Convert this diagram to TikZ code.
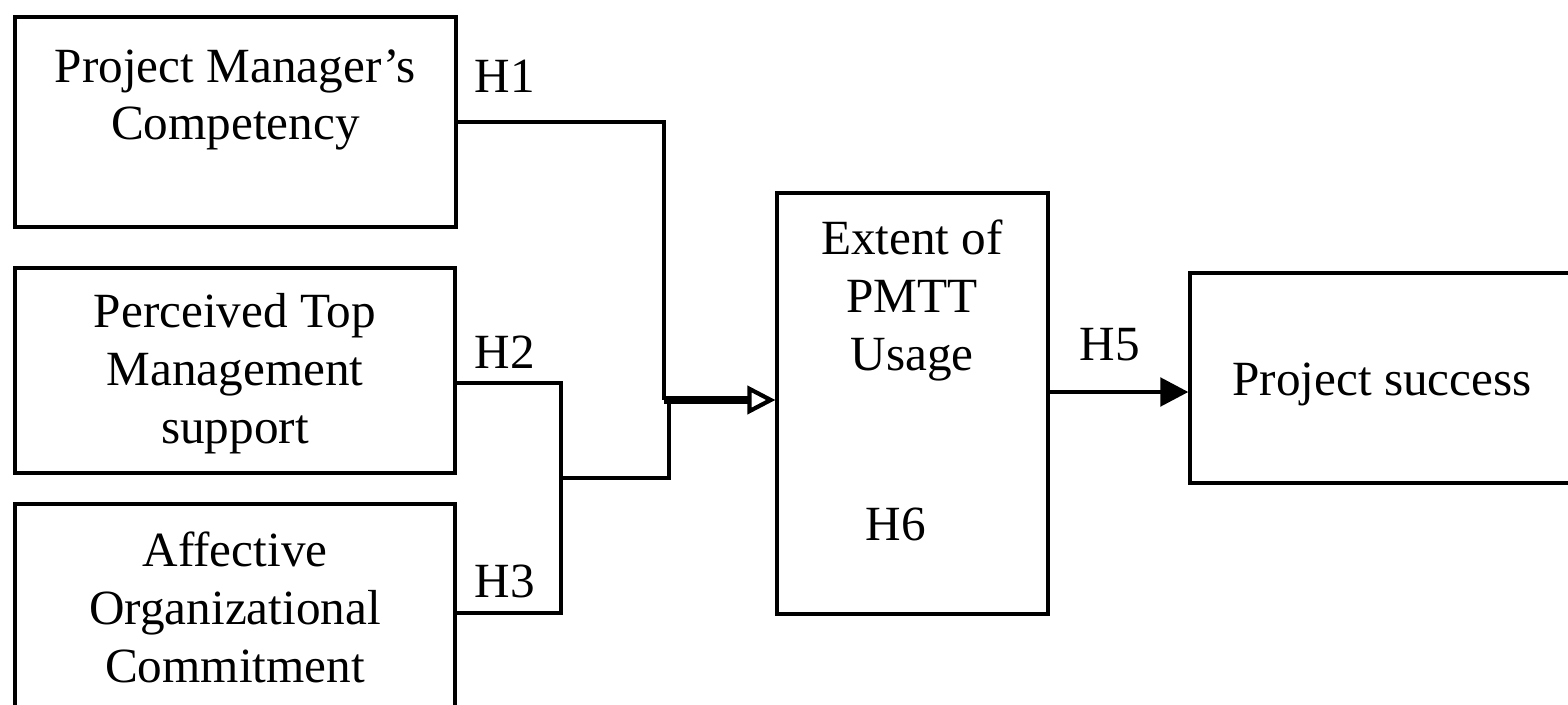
\documentclass[tikz,border=0pt]{standalone}
\usepackage{fontspec}
\setmainfont{Liberation Serif}
\usetikzlibrary{arrows.meta}

\begin{document}
\begin{tikzpicture}[
  box/.style={draw,line width=0.9pt,rectangle,inner sep=0pt},
  txt/.style={align=center,anchor=base,inner sep=0pt,font=\fontsize{14}{16.4}\selectfont},
  link/.style={line width=1pt}]
\useasboundingbox (0,0) rectangle (15.68,7.04);

\node[box,minimum width=4.41cm,minimum height=2.10cm] (pmc) at (2.355,5.82) {};
\node[box,minimum width=4.40cm,minimum height=2.05cm] (ptm) at (2.35,3.335) {};
\node[box,minimum width=4.40cm,minimum height=2.40cm] (aoc) at (2.35,0.80) {};
\node[box,minimum width=2.71cm,minimum height=4.21cm] (use) at (9.125,3.005) {};
\node[box,minimum width=4.00cm,minimum height=2.10cm] (ps) at (13.90,3.26) {};

\node[txt] (pmc-t) at (2.355,5.64) {Project Manager’s\\Competency};
\node[txt] (ptm-t) at (2.35,2.61) {Perceived Top\\Management\\support};
\node[txt] (aoc-t) at (2.35,0.22) {Affective\\Organizational\\Commitment};
\node[txt] (use-t) at (9.12,3.34) {Extent of\\PMTT\\Usage};
\node[txt] (ps-t) at (13.82,3.09) {Project success};

\node[txt] (h1) at (5.05,6.11) {H1};
\node[txt] (h2) at (5.05,3.36) {H2};
\node[txt] (h3) at (5.05,1.07) {H3};
\node[txt] (h5) at (11.10,3.44) {H5};
\node[txt] (h6) at (8.96,1.64) {H6};

\coordinate (j1) at (6.64,3.04);
\coordinate (b2) at (5.61,3.21);
\coordinate (b3) at (5.61,0.91);
\coordinate (m23) at (5.61,2.26);
\coordinate (k) at (6.69,3.04);

\draw[link] (pmc.east) -| (j1);
\draw[link] (ptm.east |- b2) -- (b2) -- (b3) -- (aoc.east |- b3);
\draw[link] (m23) -| (k);
\draw[line width=2pt,-{Triangle[open,length=8pt,width=8pt,line width=1.2pt]}] (j1) -- (use.west |- j1);
\draw[line width=1.4pt,-{Triangle[length=8pt,width=8pt]}] (use.east |- 0,3.12) -- (ps.west |- 0,3.12);
\end{tikzpicture}
\end{document}
